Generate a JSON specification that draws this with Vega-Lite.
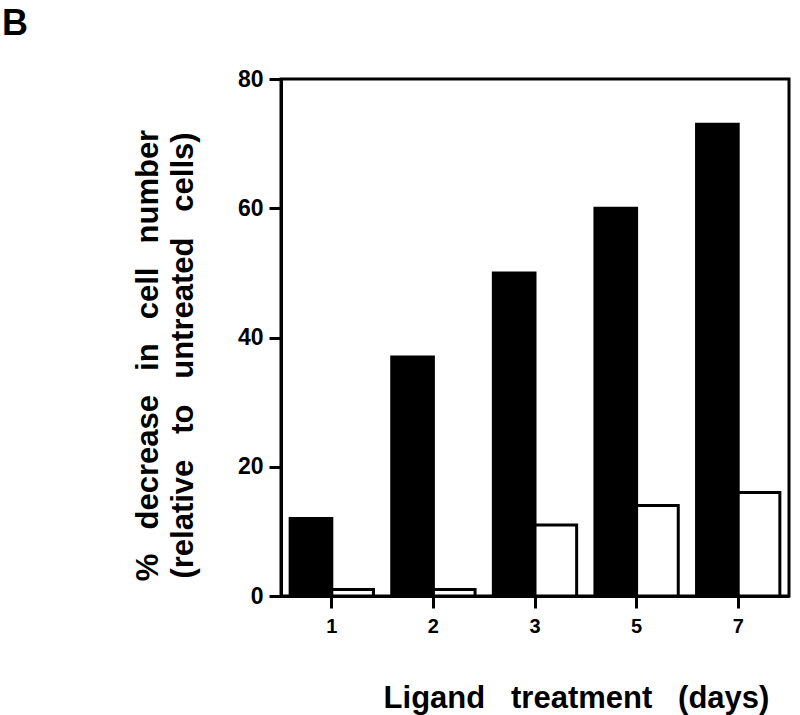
{
  "$schema": "https://vega.github.io/schema/vega-lite/v6.json",
  "width": 508,
  "height": 517,
  "autosize": {"type": "none"},
  "padding": {"left": 281, "top": 79, "right": 11, "bottom": 119},
  "background": "white",
  "title": {
    "text": "B",
    "anchor": "start",
    "frame": "group",
    "dx": -279,
    "dy": 38,
    "offset": 35,
    "baseline": "alphabetic",
    "fontSize": 36,
    "fontWeight": "bold",
    "font": "Liberation Sans",
    "color": "black"
  },
  "config": {
    "font": "Liberation Sans",
    "view": {"stroke": "black", "strokeWidth": 3},
    "axis": {
      "domainColor": "black",
      "domainWidth": 3,
      "tickColor": "black",
      "tickWidth": 3,
      "tickSize": 12,
      "labelColor": "black",
      "labelFont": "Liberation Sans",
      "labelFontWeight": "bold",
      "titleColor": "black",
      "titleFont": "Liberation Sans",
      "titleFontWeight": "bold",
      "grid": false
    }
  },
  "data": {
    "values": [
      {"day": "1", "treatment": "ligand", "decrease": 12},
      {"day": "1", "treatment": "control", "decrease": 1},
      {"day": "2", "treatment": "ligand", "decrease": 37},
      {"day": "2", "treatment": "control", "decrease": 1},
      {"day": "3", "treatment": "ligand", "decrease": 50},
      {"day": "3", "treatment": "control", "decrease": 11},
      {"day": "5", "treatment": "ligand", "decrease": 60},
      {"day": "5", "treatment": "control", "decrease": 14},
      {"day": "7", "treatment": "ligand", "decrease": 73},
      {"day": "7", "treatment": "control", "decrease": 16}
    ]
  },
  "mark": {"type": "bar", "stroke": "black", "strokeWidth": 3},
  "encoding": {
    "x": {
      "field": "day",
      "type": "nominal",
      "sort": ["1", "2", "3", "5", "7"],
      "scale": {"paddingInner": 0.18, "paddingOuter": 0.09},
      "axis": {
        "labelAngle": 0,
        "labelFontSize": 20,
        "labelPadding": 8,
        "title": "Ligand\u00a0\u00a0\u00a0treatment\u00a0\u00a0\u00a0(days)",
        "titleFontSize": 31,
        "titleX": 295,
        "titleY": 111,
        "titleAlign": "center",
        "titleBaseline": "alphabetic"
      }
    },
    "xOffset": {
      "field": "treatment",
      "type": "nominal",
      "sort": ["ligand", "control"]
    },
    "y": {
      "field": "decrease",
      "type": "quantitative",
      "scale": {"domain": [0, 80], "nice": false},
      "axis": {
        "values": [0, 20, 40, 60, 80],
        "labelFontSize": 23,
        "labelPadding": 6,
        "title": [
          "%\u00a0\u2002decrease\u00a0\u2002in\u00a0\u2002cell\u00a0\u2002number",
          "(relative\u00a0\u00a0\u00a0to\u00a0\u00a0\u00a0untreated\u00a0\u00a0\u00a0cells)"
        ],
        "titleFontSize": 31,
        "titleAngle": -90,
        "titleX": -124,
        "titleY": 276,
        "titleAlign": "center",
        "titleBaseline": "alphabetic",
        "titleLineHeight": 35
      }
    },
    "fill": {
      "field": "treatment",
      "type": "nominal",
      "scale": {"domain": ["ligand", "control"], "range": ["black", "white"]},
      "legend": null
    }
  }
}
